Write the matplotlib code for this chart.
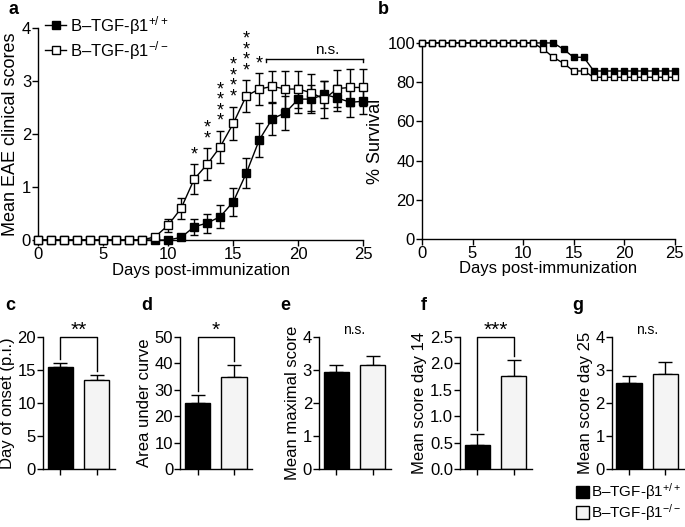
import matplotlib
matplotlib.use("Agg")
import matplotlib.pyplot as plt
from matplotlib.patches import Patch
from matplotlib.lines import Line2D

plt.rcParams['font.family'] = ['Liberation Sans', 'DejaVu Sans']
plt.rcParams['mathtext.fontset'] = 'custom'
plt.rcParams['mathtext.rm'] = 'Liberation Sans'
plt.rcParams['mathtext.it'] = 'Liberation Sans'
plt.rcParams['axes.linewidth'] = 1.0

# ---- data ----
days = list(range(26))

# panel a: mean clinical scores (+/+ filled, -/- open)
wt_score = [0, 0, 0, 0, 0, 0, 0, 0, 0, 0, 0, 0.05, 0.25, 0.32, 0.44, 0.72,
            1.26, 1.89, 2.29, 2.4, 2.66, 2.66, 2.75, 2.68, 2.6, 2.62]
wt_sem = [0, 0, 0, 0, 0, 0, 0, 0, 0, 0, 0, 0.02, 0.15, 0.18, 0.22, 0.27,
          0.28, 0.32, 0.3, 0.32, 0.27, 0.26, 0.25, 0.25, 0.27, 0.25]
ko_score = [0, 0, 0, 0, 0, 0, 0, 0, 0, 0.06, 0.28, 0.6, 1.15, 1.43, 1.76, 2.2,
            2.72, 2.85, 2.9, 2.85, 2.85, 2.78, 2.66, 2.86, 2.88, 2.88]
ko_sem = [0, 0, 0, 0, 0, 0, 0, 0, 0, 0.04, 0.12, 0.2, 0.28, 0.3, 0.3, 0.32,
          0.3, 0.3, 0.3, 0.35, 0.35, 0.35, 0.35, 0.35, 0.35, 0.35]
star_days = [12, 13, 14, 15, 16, 17]
star_labels = ["*", "**", "****", "****", "****", "*"]

# panel b: % survival
wt_surv = [100] * 14 + [96.8, 92.7, 92.7] + [85.7] * 9
ko_surv = [100] * 12 + [96.8, 92.7, 89.6, 85.7, 85.7] + [82.5] * 9

# panels c-g: bar summaries (+/+, -/-)
bar_panels = [
    ("c", "Day of onset (p.i.)", [15.5, 13.5], [0.5, 0.7], [0, 5, 10, 15, 20], "**"),
    ("d", "Area under curve", [25.0, 35.0], [3.2, 4.5], [0, 10, 20, 30, 40, 50], "*"),
    ("e", "Mean maximal score", [2.95, 3.15], [0.2, 0.28], [0, 1, 2, 3, 4], "n.s."),
    ("f", "Mean score day 14", [0.45, 1.76], [0.22, 0.3], [0.0, 0.5, 1.0, 1.5, 2.0, 2.5], "***"),
    ("g", "Mean score day 25", [2.6, 2.88], [0.23, 0.35], [0, 1, 2, 3, 4], "n.s."),
]

wt_label = "B–TGF-β1$^{+/+}$"
ko_label = "B–TGF-β1$^{-/-}$"
light = "#f4f4f4"

fig = plt.figure(figsize=(6.85, 5.27), dpi=100)


def style_axis(ax):
    ax.spines['top'].set_visible(False)
    ax.spines['right'].set_visible(False)
    ax.tick_params(direction='out', length=4, width=1, labelsize=12, pad=1)


# ---- panel a ----
ax_a = fig.add_axes([0.0555, 0.5446, 0.475, 0.402])
style_axis(ax_a)
ax_a.errorbar(days, wt_score, yerr=wt_sem, color='black', marker='s', ms=6,
              mfc='black', mec='black', lw=1, capsize=3, elinewidth=1,
              clip_on=False, label=wt_label, zorder=3)
ax_a.errorbar(days, ko_score, yerr=ko_sem, color='black', marker='s', ms=6,
              mfc='white', mec='black', lw=1, capsize=3, elinewidth=1,
              clip_on=False, label=ko_label, zorder=4)
for d, s in zip(star_days, star_labels):
    i = days.index(d)
    top = ko_score[i] + ko_sem[i]
    ax_a.text(d, top + 0.02, "\n".join(s), ha='center', va='bottom',
              fontsize=13, linespacing=0.5)
ax_a.plot([17.5, 25], [3.42, 3.42], color='black', lw=1, clip_on=False)
ax_a.plot([17.5, 17.5], [3.42, 3.37], color='black', lw=1, clip_on=False)
ax_a.plot([25, 25], [3.42, 3.37], color='black', lw=1, clip_on=False)
ax_a.text(22.2, 3.45, "n.s.", ha='center', va='bottom', fontsize=11)
ax_a.set_xlim(0, 25)
ax_a.set_ylim(0, 4)
ax_a.set_xticks([0, 5, 10, 15, 20, 25])
ax_a.set_yticks([0, 1, 2, 3, 4])
ax_a.set_xlabel("Days post-immunization", fontsize=12, labelpad=1)
ax_a.set_ylabel("Mean EAE clinical scores", fontsize=13, labelpad=2)
handles = [Line2D([], [], color='black', marker='s', ms=6, mfc='black', lw=1),
           Line2D([], [], color='black', marker='s', ms=6, mfc='white', lw=1)]
ax_a.legend(handles, [wt_label, ko_label], loc='upper left', frameon=False,
            bbox_to_anchor=(0.0, 1.1), fontsize=12, handlelength=1.3,
            handletextpad=0.2, borderaxespad=0, labelspacing=0.15)

# ---- panel b ----
ax_b = fig.add_axes([0.616, 0.5465, 0.369, 0.372])
style_axis(ax_b)
ax_b.plot(days, wt_surv, color='black', marker='s', ms=4.5, mfc='black',
          mec='black', lw=1, clip_on=False, zorder=3)
ax_b.plot(days, ko_surv, color='black', marker='s', ms=4.5, mfc='white',
          mec='black', lw=1, clip_on=False, zorder=4)
ax_b.set_xlim(0, 25)
ax_b.set_ylim(0, 100)
ax_b.set_xticks([0, 5, 10, 15, 20, 25])
ax_b.set_yticks([0, 20, 40, 60, 80, 100])
ax_b.set_xlabel("Days post-immunization", fontsize=12, labelpad=0)
ax_b.set_ylabel("% Survival", fontsize=13, labelpad=2)

# ---- panels c-g ----
lefts = [0.0628, 0.263, 0.4657, 0.6715, 0.893]
for left, (tag, ylab, means, errs, yt, sig) in zip(lefts, bar_panels):
    ax = fig.add_axes([left, 0.110, 0.105, 0.2505])
    style_axis(ax)
    ax.bar([0, 1], means, width=0.7, color=['black', light],
           edgecolor='black', lw=1, zorder=2)
    ax.errorbar([0, 1], means, yerr=[[0, 0], errs], fmt='none',
                ecolor='black', elinewidth=1, capsize=5, capthick=1, zorder=1)
    ymax = yt[-1]
    ax.set_ylim(0, ymax)
    ax.set_yticks(yt)
    if tag == "f":
        ax.set_yticklabels(["%.1f" % v for v in yt])
    ax.set_xlim(-0.48, 1.5)
    ax.set_xticks([0, 1])
    ax.set_xticklabels(["", ""])
    ax.set_ylabel(ylab, fontsize=12, labelpad=2)
    if sig == "n.s.":
        ax.text(0.5, ymax * 1.0, sig, ha='center', va='bottom', fontsize=10)
    else:
        gap = ymax * 0.03
        y0 = means[0] + errs[0] + gap
        y1 = means[1] + errs[1] + gap
        ax.plot([0, 0, 1, 1], [y0, ymax, ymax, y1], color='black', lw=1,
                clip_on=False)
        ax.text(0.5, ymax * 0.98, sig, ha='center', va='bottom', fontsize=15)
    fig.text(left - 0.057 if tag != "c" else 0.008, 0.405, tag,
             fontsize=13, fontweight='bold', va='bottom')

fig.text(0.012, 0.966, "a", fontsize=13, fontweight='bold', va='bottom')
fig.text(0.551, 0.966, "b", fontsize=13, fontweight='bold', va='bottom')

leg_handles = [Patch(facecolor='black', edgecolor='black'),
               Patch(facecolor=light, edgecolor='black')]
fig.legend(leg_handles, [wt_label, ko_label], loc='lower right',
           bbox_to_anchor=(1.0, 0.0), frameon=False, fontsize=11,
           handlelength=0.85, handleheight=0.85, handletextpad=0.1,
           labelspacing=0.0, borderaxespad=0.15, borderpad=0.1)

fig.savefig("out.png", dpi=100)
